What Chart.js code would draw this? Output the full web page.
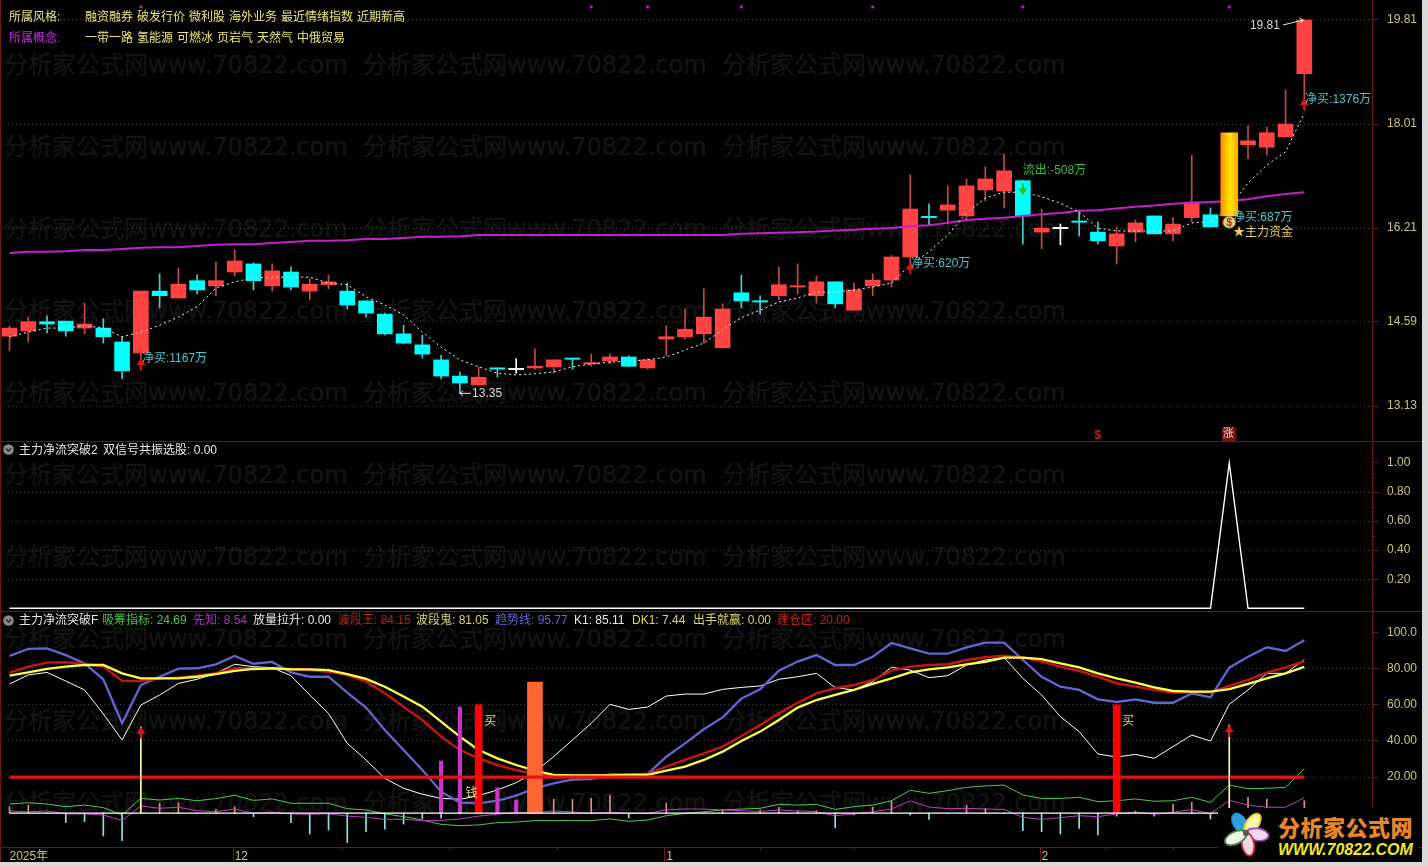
<!DOCTYPE html>
<html lang="zh"><head><meta charset="utf-8"><title>主力净流突破</title>
<script src="https://cdn.jsdelivr.net/npm/chart.js@4"></script>
<style>
html,body{margin:0;padding:0;background:#d8d8d8;width:1428px;height:866px;overflow:hidden}
#app{position:absolute;left:0;top:0;width:1422px;height:862px;background:#000;overflow:hidden;font:12px "Liberation Sans","Noto Sans CJK SC",sans-serif}
canvas{position:absolute;left:0}
.wm{position:absolute;color:#131313;font:24px "DejaVu Sans","Noto Sans CJK SC",sans-serif;-webkit-text-stroke:.5px #131313;white-space:nowrap;line-height:30px}
.t{position:absolute;white-space:nowrap;line-height:16px;z-index:5}
.ln{position:absolute;background:#6e1616;z-index:4}
</style></head><body><div id="app"></div>
<script>
// ---- main panel: candles ----
const openP=[14.34,14.43,14.59,14.60,14.48,14.48,14.24,14.05,15.12,15.00,15.30,15.21,15.45,15.59,15.21,15.45,15.12,15.23,15.12,14.95,14.72,14.38,14.19,13.93,13.65,13.50,13.78,13.76,13.79,13.81,13.95,13.86,13.91,13.98,13.79,14.29,14.33,14.38,14.14,15.09,14.95,15.04,15.19,15.04,15.28,14.79,15.21,15.31,15.71,16.40,16.52,16.42,16.87,16.85,17.03,16.14,16.20,16.33,16.14,15.90,16.14,16.42,16.11,16.39,16.44,16.42,17.65,17.61,17.79,18.88];
const closeP=[14.48,14.59,14.55,14.43,14.55,14.33,13.74,15.12,15.04,15.24,15.14,15.30,15.64,15.30,15.47,15.19,15.24,15.28,14.88,14.74,14.38,14.22,14.03,13.65,13.53,13.63,13.77,13.76,13.82,13.93,13.94,13.88,13.98,13.82,13.93,14.33,14.46,14.67,14.81,14.95,14.93,15.23,15.21,15.28,14.90,15.14,15.31,15.71,16.54,16.39,16.61,16.94,17.06,17.20,16.42,16.21,16.20,16.31,15.99,16.11,16.30,16.11,16.28,16.66,16.23,17.86,17.72,17.86,18.01,19.81];
const highP=[14.52,14.67,14.69,14.60,14.91,14.64,14.33,15.12,15.42,15.52,15.40,15.62,15.83,15.61,15.59,15.54,15.33,15.40,15.26,14.95,14.74,14.53,14.36,14.01,13.72,13.81,13.79,13.95,14.12,13.93,13.95,14.03,14.03,14.00,13.95,14.52,14.81,15.16,14.90,15.40,15.04,15.54,15.59,15.38,15.28,15.26,15.42,15.74,17.13,16.63,16.94,17.06,17.27,17.49,17.03,16.54,16.28,16.52,16.32,16.23,16.35,16.42,16.39,17.47,16.56,17.86,17.98,17.96,18.60,19.81];
const lowP=[14.09,14.24,14.40,14.34,14.38,14.22,13.60,13.93,14.83,15.00,15.07,15.04,15.38,15.14,15.12,15.14,14.97,15.16,14.81,14.67,14.36,14.21,13.96,13.60,13.35,13.50,13.63,13.70,13.77,13.70,13.77,13.82,13.86,13.81,13.77,14.00,14.29,14.22,14.14,14.83,14.72,14.97,15.07,14.91,14.83,14.79,15.04,15.19,15.57,16.26,16.28,16.35,16.68,16.56,15.93,15.85,15.92,16.07,15.93,15.59,15.97,16.11,15.99,16.33,16.23,16.42,17.41,17.47,17.79,18.25];
const dashP=[14.33,14.41,14.48,14.48,14.52,14.48,14.33,14.41,14.53,14.67,14.85,15.17,15.28,15.35,15.36,15.36,15.36,15.26,15.23,15.02,14.88,14.71,14.41,14.15,13.93,13.81,13.70,13.67,13.69,13.72,13.81,13.86,13.89,13.91,13.93,13.98,14.10,14.22,14.45,14.66,14.79,14.93,15.00,15.10,15.10,15.14,15.19,15.26,15.57,15.80,16.09,16.47,16.73,16.83,16.83,16.75,16.64,16.49,16.21,16.16,16.16,16.16,16.16,16.30,16.32,16.56,16.99,17.30,17.53,18.20];
const purpleP=[15.78,15.80,15.80,15.81,15.83,15.83,15.85,15.87,15.88,15.88,15.90,15.92,15.93,15.93,15.95,15.97,15.99,15.99,16.00,16.02,16.02,16.04,16.06,16.06,16.07,16.09,16.09,16.09,16.09,16.09,16.09,16.09,16.09,16.09,16.09,16.09,16.09,16.09,16.09,16.11,16.12,16.13,16.14,16.15,16.17,16.18,16.20,16.21,16.24,16.26,16.30,16.35,16.37,16.39,16.42,16.45,16.47,16.51,16.52,16.55,16.58,16.60,16.63,16.65,16.66,16.68,16.71,16.76,16.80,16.83];
const goldIdx=65;
const priceTicks=[19.81,18.01,16.21,14.59,13.13];
const priceMin=12.509, priceMax=20.156;
const dotIdx=[7,31,34,39,46,54,65]; const dotVal=20.035;
// ---- middle panel ----
const signalV=[0,0,0,0,0,0,0,0,0,0,0,0,0,0,0,0,0,0,0,0,0,0,0,0,0,0,0,0,0,0,0,0,0,0,0,0,0,0,0,0,0,0,0,0,0,0,0,0,0,0,0,0,0,0,0,0,0,0,0,0,0,0,0,0,0,1,0,0,0,0];
const signalTicks=[1,0.8,0.6,0.4,0.2];
// ---- lower panel ----
const trendV=[87.1,91.0,91.3,87.6,83.0,74.2,49.8,71.0,75.6,80.1,80.3,82.5,87.1,82.8,83.8,78.0,75.6,75.6,66.8,58.5,46.1,35.0,23.9,11.9,5.8,5.5,6.9,9.7,13.8,16.5,18.6,18.9,21.5,21.3,21.7,31.3,38.7,46.5,53.1,63.5,68.6,79.0,84.0,87.6,82.1,82.1,86.7,94.3,91.3,88.4,88.4,91.9,94.5,94.5,84.9,75.6,70.1,68.3,63.1,61.6,63.1,61.2,61.2,66.4,64.2,80.6,86.7,91.9,89.9,95.77];
const k1V=[71.6,76.6,78.0,73.2,68.3,55.0,40.6,59.9,65.5,71.9,74.2,77.5,82.5,81.2,80.6,76.2,65.5,55.3,38.7,29.5,19.3,13.8,10.5,8.2,7.7,9.7,12.9,16.9,23.0,31.3,40.6,49.8,60.3,57.5,58.8,64.9,66.0,66.0,68.6,69.7,70.5,74.2,75.6,77.5,69.5,68.3,72.9,80.8,79.3,75.1,76.2,82.1,84.9,86.2,74.7,65.5,53.5,45.2,32.8,31.1,32.6,30.4,36.9,43.3,40.0,60.3,68.3,77.5,77.5,85.11];
const waveKingV=[77.9,81.2,83.4,83.6,82.7,81.2,73.4,73.2,74.7,75.1,76.2,77.5,80.3,80.3,80.4,79.9,79.3,78.4,76.6,72.9,66.4,59.0,51.6,42.4,35.0,30.4,26.7,23.9,21.5,20.8,20.8,20.8,21.2,21.3,21.7,25.8,29.5,33.2,36.9,42.8,48.9,55.3,61.2,66.4,69.2,71.0,73.8,79.0,81.2,82.1,82.5,84.9,86.4,87.3,86.2,84.0,81.2,78.8,75.6,72.0,70.1,68.3,66.8,67.0,67.0,70.5,73.8,77.9,80.8,84.15];
const waveGhostV=[76.2,78.0,79.9,81.2,82.1,82.1,77.5,74.7,74.7,74.7,75.6,77.1,78.8,79.9,80.3,79.7,79.7,79.3,77.1,74.4,70.1,64.6,59.0,50.7,42.4,35.0,30.4,26.7,23.6,21.2,21.0,21.0,21.0,21.2,21.3,23.6,25.8,29.5,34.1,40.0,45.2,51.6,58.5,62.7,65.5,68.3,71.6,74.7,78.0,79.7,80.8,82.5,83.9,86.2,86.2,85.4,83.0,80.8,77.5,74.7,72.3,69.7,67.7,67.3,67.3,68.8,71.6,74.7,77.5,81.05];
const absorbV=[5.1,5.8,5.1,3.6,4.5,3.1,-1.0,8.2,7.3,8.2,6.9,8.1,9.9,7.1,7.9,5.5,5.5,5.5,2.5,1.8,-0.4,-1.9,-3.8,-6.2,-6.9,-6.5,-5.2,-4.9,-4.1,-4.1,-4.1,-4.1,-3.2,-4.5,-3.8,-1.4,-0.1,0.8,1.8,2.3,2.7,4.9,4.5,4.9,2.1,3.6,4.5,6.9,12.7,11.0,12.5,14.3,15.1,15.6,10.1,8.2,8.2,8.8,6.4,6.9,7.9,6.6,6.9,8.8,6.0,15.6,13.6,13.8,14.3,24.69];
const foreV=[1.2,0.8,1.2,-0.4,-0.4,-1.0,-4.1,4.0,2.7,3.3,1.4,0.8,2.3,-0.1,0.7,-0.4,-0.6,-0.3,-1.6,-2.3,-3.4,-3.4,-4.1,-4.0,-3.2,-1.6,-0.6,0.5,0.5,1.2,0.7,-0.1,0.5,-0.1,-0.1,1.8,2.3,2.3,1.8,1.4,1.0,1.8,1.2,0.8,-1.4,-0.4,0.8,2.3,6.8,3.4,2.5,2.7,2.3,2.1,-2.3,-3.4,-2.5,-1.4,-1.9,-0.4,0.7,-0.6,0.5,2.0,-0.3,7.1,4.5,3.3,3.3,8.54];
const stickV=[3.6,4.5,0,-5.2,-4.7,-12.6,-15.2,0,5.5,5.8,0,2.1,3.6,-1.9,0,-5.2,-11.5,-9.3,-16.3,-10.2,-8.8,-6.0,-3.0,-2.8,0,0,0,0,0,7.7,7.7,8.2,9.9,-2.5,0,5.5,0,0,2.1,0,1.8,3.3,1.4,1.4,-8.0,-1.0,3.3,6.9,-1.0,-3.4,0,4.5,2.7,0,-9.7,-10.2,-11.5,-8.4,-12.1,-1.6,1.2,-1.6,4.9,6.0,-3.2,0,8.8,7.7,0,6.9];
const buildLevel=20;
const magentaIdx=[23,24,26,27], magentaVal=[28.9,58.8,14.1,7.3];
const buyBarIdx=[25,59], buyBarVal=[60,60];
const orangeIdx=[28], orangeVal=[72.7];
const riseIdx=[7,65], riseVal=[47.9,48.9];
const indTicks=[100,80,60,40,20];
// ---- x axis ----
const xTickIdx=[0,12,35,55], xTickLabels=['2025年','12','1','2'];
const xMinorIdx=[17.7,23.4,29.2,40,45,58.4,62];
// ---- annotations: [index, value, text] ----
const buyNotes=[[7.06,13.95,'净买:1167万'],[48.04,15.59,'净买:620万'],[69.04,18.43,'净买:1376万'],[65.2,16.385,'净买:687万']];
const sellNotes=[[54,17.2,'流出:-508万']];
const goldNotes=[[65.2,16.13,'★主力资金']];
const extremeNotes=[[66.1,19.72,'19.81'],[24.65,13.34,'13.35']];
const upArrows=[[7,13.96],[48,15.62],[69,18.46]];
const downArrows=[[54,16.78]];
const indNotes=[[25.3,50.5,'买'],[59.3,50.5,'买'],[24.3,10.6,'钱']];

const IDX=[...Array(70).keys()];
const W=1422, AXISW=50;
const xMin=-0.506, xMax=72.606;
const FONT='"Liberation Sans","Noto Sans CJK SC",sans-serif';
const app=document.getElementById('app');
const pts=a=>a.map((y,x)=>({x,y}));
const sparse=(ix,v)=>ix.map((x,k)=>({x,y:v[k]}));
const GRID='#3e3e3e', AX='#6e1616', LBL='#C8C86E';

// watermark
for(let r=0;r<10;r++)for(let c=0;c<3;c++){const d=document.createElement('div');d.className='wm';d.textContent='分析家公式网www.70822.com';d.style.left=(4+359*c)+'px';d.style.top=(50+82*r)+'px';app.appendChild(d);}

function mk(top,h){const c=document.createElement('canvas');c.width=W;c.height=h;c.style.top=top+'px';c.style.width=W+'px';c.style.height=h+'px';app.appendChild(c);return c;}
function xScale(show){return{type:'linear',min:xMin,max:xMax,offset:false,display:show,grid:{display:false,offset:false,drawTicks:false},border:{display:false},
  afterBuildTicks:s=>{s.ticks=xTickIdx.map(value=>({value}));},afterFit:s=>{if(show)s.height=15;s.paddingLeft=0;s.paddingRight=0;},
  ticks:{autoSkip:false,maxRotation:0,align:'start',padding:2,color:LBL,font:{family:FONT,size:12},callback:(v,i)=>xTickLabels[i]}};}
function yScale(min,max,list,fmt,hideTop){return{type:'linear',position:'right',min,max,offset:false,
  grid:{color:c=>hideTop&&c.tick&&c.tick.value===list[0]?'transparent':GRID,tickColor:AX,tickLength:6,offset:false},
  border:{display:false,dash:[1,3]},afterFit:s=>{s.width=AXISW;s.paddingTop=0;s.paddingBottom=0;},afterBuildTicks:s=>{s.ticks=list.map(value=>({value}));},
  ticks:{autoSkip:false,padding:9,color:LBL,font:{family:FONT,size:12},callback:fmt}};}
const baseOpts={responsive:false,animation:false,events:[],layout:{padding:0,autoPadding:false},plugins:{legend:{display:false},tooltip:{enabled:false}}};
const line=(a,color,w,order,extra)=>Object.assign({type:'line',data:pts(a),borderColor:color,borderWidth:w,pointRadius:0,tension:0,order,fill:false},extra||{});
const bar=(data,color,thick,order,extra)=>Object.assign({type:'bar',data,backgroundColor:color,barThickness:thick,grouped:false,borderWidth:0,order},extra||{});

function arrow(ctx,x,y,dir,color){ctx.fillStyle=color;ctx.beginPath();ctx.moveTo(x,y);ctx.lineTo(x-4.5,y+dir*7);ctx.lineTo(x+4.5,y+dir*7);ctx.closePath();ctx.fill();ctx.fillRect(x-1,Math.min(y+dir*6,y+dir*12),2,6);}
function txt(ctx,chart,list,color){ctx.fillStyle=color;ctx.font='12px '+FONT;ctx.textBaseline='middle';ctx.textAlign='left';list.forEach(([i,v,s])=>ctx.fillText(s,chart.scales.x.getPixelForValue(i),chart.scales.y.getPixelForValue(v)));}

// ---- panel 1 ----
const bodyIdx=IDX.filter(i=>i!==goldIdx);
const bodyColor=i=>closeP[i]>openP[i]?'#FF4343':closeP[i]<openP[i]?'#00FFFF':'#FFFFFF';
const wickColor=i=>i===goldIdx?'rgba(0,0,0,0)':closeP[i]>openP[i]?'#C24A4A':closeP[i]<openP[i]?'#48CCCC':'#FFFFFF';
const mainMarks={id:'mainMarks',afterDatasetsDraw(chart){const c=chart.ctx,X=chart.scales.x,Y=chart.scales.y;c.save();
  upArrows.forEach(([i,v])=>arrow(c,X.getPixelForValue(i),Y.getPixelForValue(v),1,'#E01212'));
  downArrows.forEach(([i,v])=>arrow(c,X.getPixelForValue(i),Y.getPixelForValue(v),-1,'#22C822'));
  txt(c,chart,buyNotes,'#48C8D0');txt(c,chart,sellNotes,'#34C034');txt(c,chart,goldNotes,'#EBD050');txt(c,chart,extremeNotes,'#D8D8D8');
  c.strokeStyle='#E8E8E8';c.lineWidth=1;c.beginPath();
  const hx=X.getPixelForValue(69),hy=Y.getPixelForValue(19.81);c.moveTo(1283,hy+5);c.lineTo(hx-1,hy);c.moveTo(hx-5,hy-2);c.lineTo(hx-1,hy);c.lineTo(hx-4,hy+3);
  const lx=X.getPixelForValue(24),ly=Y.getPixelForValue(13.35);c.moveTo(lx,ly);c.lineTo(lx+11,ly);c.moveTo(lx+3,ly-2.5);c.lineTo(lx,ly);c.lineTo(lx+3,ly+2.5);c.stroke();
  const bx=X.getPixelForValue(goldIdx),by=Y.getPixelForValue(16.31);c.fillStyle='#E9C877';c.strokeStyle='#7a5a20';c.beginPath();c.ellipse(bx,by,6.5,6,0,0,7);c.fill();c.stroke();
  c.fillRect(bx-3,by-8,6,2);c.fillStyle='#8a3a10';c.font='bold 10px '+FONT;c.textAlign='center';c.textBaseline='middle';c.fillText('$',bx,by+0.5);
  const sy=Y.getPixelForValue(12.64);
  c.fillStyle='#C02020';c.font='bold 12px '+FONT;c.fillText('$',X.getPixelForValue(58),sy+1);
  c.fillStyle='#7A1414';const zx=X.getPixelForValue(goldIdx);c.fillRect(zx-7,sy-7,14,14);c.fillStyle='#F0D8D8';c.font='11px '+FONT;c.fillText('涨',zx-1,sy);
  c.restore();}};
new Chart(mk(0,442),{type:'bar',data:{datasets:[
  bar(IDX.map(i=>({x:i,y:[lowP[i],highP[i]]})),IDX.map(wickColor),1,6),
  bar(bodyIdx.map(i=>({x:i,y:[openP[i],closeP[i]]})),bodyIdx.map(bodyColor),15,5,{minBarLength:1.3}),
  line(purpleP,'#C820C8',2,4),
  line(dashP,'#F4F4E8',1,3,{borderDash:[2,3]}),
  bar([{x:goldIdx,y:[openP[goldIdx],closeP[goldIdx]]}],c=>{const ch=c.chart;if(!ch.chartArea)return'#FFC000';const x=ch.scales.x.getPixelForValue(goldIdx),g=ch.ctx.createLinearGradient(x-8.5,0,x+8.5,0);g.addColorStop(0,'#FF8A00');g.addColorStop(.55,'#FFE800');g.addColorStop(1,'#FFA400');return g;},17,2),
  {type:'line',showLine:false,data:dotIdx.map(x=>({x,y:dotVal})),pointStyle:'rect',pointRadius:2,pointBackgroundColor:'#A825C8',pointBorderWidth:0,order:1}
]},options:{...baseOpts,scales:{x:xScale(false),y:yScale(priceMin,priceMax,priceTicks,v=>v.toFixed(2),false)}},plugins:[mainMarks]});

// ---- panel 2 ----
const minorTicks={id:'minorTicks',afterDatasetsDraw(chart){const c=chart.ctx,Y=chart.scales.y,x=chart.chartArea.right;c.save();c.fillStyle=AX;[0.9,0.7,0.5,0.3,0.1].forEach(v=>c.fillRect(x,Math.round(Y.getPixelForValue(v)),3,1));c.restore();}};
new Chart(mk(442,170),{type:'line',data:{datasets:[line(signalV,'#FFFFFF',1.4,1)]},
  options:{...baseOpts,scales:{x:xScale(false),y:yScale(-0.0255,1.1445,signalTicks,v=>v.toFixed(2),true)}},plugins:[minorTicks]});

// ---- panel 3 ----
const indMarks={id:'indMarks',afterDatasetsDraw(chart){const c=chart.ctx,X=chart.scales.x,Y=chart.scales.y;c.save();
  riseIdx.forEach((i,k)=>arrow(c,X.getPixelForValue(i),Y.getPixelForValue(riseVal[k]),1,'#E01212'));
  txt(c,chart,indNotes,'#E6D870');
  const b=chart.chartArea.bottom;c.fillStyle=AX;xTickIdx.slice(1).forEach(i=>c.fillRect(Math.round(X.getPixelForValue(i))-2,b,1,15));
  xMinorIdx.forEach(i=>c.fillRect(Math.round(X.getPixelForValue(i)),b,1,3));c.restore();}};
new Chart(mk(612,250),{type:'bar',data:{datasets:[
  bar(IDX.map(i=>({x:i,y:stickV[i]})),IDX.map(i=>stickV[i]>0?'#DE8C8C':'#8CE4E4'),1,12),
  line(absorbV,'#4FC84F',1,11),
  line(foreV,'#BC40BC',1,10),
  line(k1V,'#FFFFFF',1,9),
  line(trendV,'#6464D2',2.3,8),
  line(waveKingV,'#C81414',2.4,7),
  line(waveGhostV,'#FFFF46',2.3,6),
  bar(sparse(magentaIdx,magentaVal),'#CC33CC',3.5,5),
  bar(sparse(orangeIdx,orangeVal),'#FF6633',15,5),
  bar(sparse(buyBarIdx,buyBarVal),'#FF0000',7,5),
  line(IDX.map(()=>buildLevel),'#E81010',3.2,3),
  line(IDX.map(()=>0),'#FFFFFF',1.3,2),
  bar(sparse(riseIdx,riseVal),'#FFFFA8',1,1)
]},options:{...baseOpts,scales:{x:xScale(true),y:yScale(-18.73,111.47,indTicks,v=>v===100?'100.0':v.toFixed(2),true)}},plugins:[indMarks]});

// ---- text rows and frame ----
function T(x,y,s,color){const d=document.createElement('div');d.className='t';d.textContent=s;d.style.left=x+'px';d.style.top=(y-8)+'px';d.style.color=color;app.appendChild(d);}
const styleItems=[[85,'融资融券'],[137,'破发行价'],[189,'微利股'],[229,'海外业务'],[281,'最近情绪指数'],[357,'近期新高']];
const conceptItems=[[85,'一带一路'],[137,'氢能源'],[177,'可燃冰'],[217,'页岩气'],[257,'天然气'],[297,'中俄贸易']];
T(9,17,'所属风格:','#E4E48C');T(9,37.5,'所属概念:','#C828E0');
styleItems.forEach(([x,s])=>T(x,17,s,'#E8E86E'));conceptItems.forEach(([x,s])=>T(x,37.5,s,'#E8E86E'));
T(19,450,'主力净流突破2','#E8E8E8');T(103,450,'双信号共振选股: 0.00','#E8E8E8');
[[19,'主力净流突破F','#E8E8E8'],[102,'吸筹指标: 24.69','#48C848'],[193,'先知: 8.54','#B030C0'],[253,'放量拉升: 0.00','#E8E8E8'],[338,'波段王: 84.15','#B82020'],[416,'波段鬼: 81.05','#D8D860'],[495,'趋势线: 95.77','#6464D2'],[574,'K1: 85.11','#E8E8E8'],[632,'DK1: 7.44','#D8D860'],[693,'出手就赢: 0.00','#D8D860'],[777,'建仓区: 20.00','#C02020']].forEach(([x,s,c])=>T(x,620,s,c));
function frame(x,y,w,h){const d=document.createElement('div');d.className='ln';d.style.cssText+=`left:${x}px;top:${y}px;width:${w}px;height:${h}px`;app.appendChild(d);}
frame(0,441,W,1);frame(0,611,W,1);frame(0,847,W,1);frame(1372,0,1,862);frame(0,0,1,862);
[449,620].forEach(y=>{const s=document.createElementNS('http://www.w3.org/2000/svg','svg');s.setAttribute('width','11');s.setAttribute('height','11');s.style.cssText=`position:absolute;left:3px;top:${y-5}px;z-index:5`;s.innerHTML='<circle cx="5.5" cy="5.5" r="5.3" fill="#8a8a8a"/><path d="M3 4.5l2.5 2.5 2.5-2.5" stroke="#222" stroke-width="1.4" fill="none"/>';app.appendChild(s);});
const logo=document.createElement('div');logo.style.cssText='position:absolute;left:1218px;top:808px;width:200px;height:54px;background:#000;z-index:6';
logo.innerHTML=`<svg width="60" height="54" style="position:absolute;left:0;top:0">
<g transform="translate(28,25) scale(.88)">
<ellipse cx="0" cy="-13" rx="8" ry="13" fill="#2F9FE2" stroke="#1F6FB0" transform="rotate(-32)"/>
<ellipse cx="0" cy="-13" rx="7" ry="13" fill="#F8F4B0" stroke="#E6D020" stroke-width="2" transform="rotate(35)"/>
<ellipse cx="0" cy="-13" rx="7" ry="13" fill="#F0D8F0" stroke="#9A3FB0" stroke-width="2" transform="rotate(98)"/>
<ellipse cx="0" cy="-13" rx="7" ry="13" fill="#F4D8E0" stroke="#D82040" stroke-width="2" transform="rotate(170)"/>
<ellipse cx="0" cy="-13" rx="7" ry="13" fill="#F0F4E8" stroke="#3F8F3F" stroke-width="2" transform="rotate(245)"/>
<circle r="3.5" fill="#555"/></g></svg>
<div style="position:absolute;left:60px;top:5px;font:900 22px 'Noto Sans CJK SC',sans-serif;line-height:26px;letter-spacing:.5px;white-space:nowrap;color:#E8862A">分析家公式网</div>
<div style="position:absolute;left:60px;top:33px;font:italic bold 16px 'Liberation Sans',sans-serif;line-height:18px;white-space:nowrap;color:#F2E81E">WWW.70822.COM</div>`;
app.appendChild(logo);
</script></body></html>
